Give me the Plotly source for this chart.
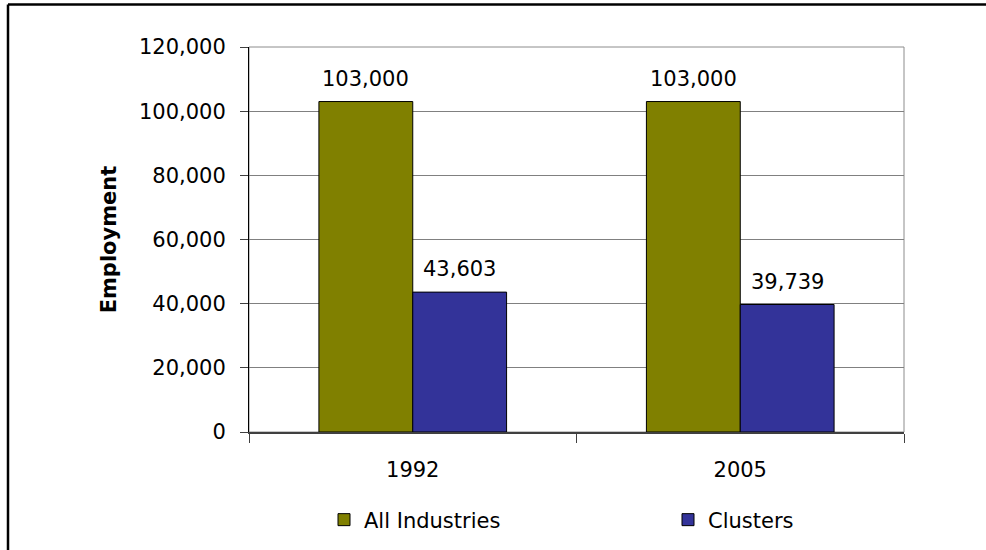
import plotly.graph_objects as go

# Employment by year: all industries vs. cluster industries
years = ["1992", "2005"]
all_industries = [103000, 103000]
clusters = [43603, 39739]

y_ticks = [0, 20000, 40000, 60000, 80000, 100000, 120000]

FONT = "Tahoma, 'DejaVu Sans', sans-serif"
W, H = 986, 550
L, R, T, B = 249, 82, 47, 118
pw, ph = W - L - R, H - T - B
BARGAP = 0.427

fig = go.Figure()
fig.add_trace(go.Bar(
    name="All Industries", x=years, y=all_industries, legend="legend",
    marker=dict(color="#808000", line=dict(color="#000000", width=1)),
))
fig.add_trace(go.Bar(
    name="Clusters", x=years, y=clusters, legend="legend2",
    marker=dict(color="#333399", line=dict(color="#000000", width=1)),
))


def px_x(x):
    return (x - L) / pw


def px_y(y):
    return (H - B - y) / ph


# value labels centred over each bar of the group
bar_px = pw / len(years) * (1 - BARGAP) / 2
annotations = []
for series, side in ((all_industries, -0.5), (clusters, 0.5)):
    for i, v in enumerate(series):
        annotations.append(dict(
            x=i, y=v, xref="x", yref="y", text=f"{v:,}", showarrow=False,
            xshift=side * bar_px, yanchor="bottom", yshift=9,
            font=dict(family=FONT, size=21, color="#000000"),
        ))

shapes = [
    # plot-area frame (top and right edges)
    dict(type="rect", xref="paper", yref="paper", x0=0, x1=1, y0=0, y1=1,
         line=dict(color="#8c8c8c", width=1), layer="below"),
    # outer chart frame
    dict(type="line", xref="paper", yref="paper", x0=px_x(8), x1=px_x(990),
         y0=px_y(4.5), y1=px_y(4.5), line=dict(color="#000000", width=2.5)),
    dict(type="line", xref="paper", yref="paper", x0=px_x(8), x1=px_x(8),
         y0=px_y(4.5), y1=px_y(560), line=dict(color="#000000", width=2.5)),
]

legend_common = dict(
    orientation="h", xanchor="left", y=px_y(520), yanchor="middle",
    font=dict(family=FONT, size=21, color="#000000"),
    bgcolor="rgba(0,0,0,0)",
)

fig.update_layout(
    width=W, height=H,
    margin=dict(l=L, r=R, t=T, b=B, pad=0, autoexpand=False),
    paper_bgcolor="#ffffff", plot_bgcolor="#ffffff",
    barmode="group", bargap=BARGAP, bargroupgap=0,
    font=dict(family=FONT, size=21, color="#000000"),
    shapes=shapes,
    annotations=annotations,
    showlegend=True,
    legend=dict(x=px_x(324), **legend_common),
    legend2=dict(x=px_x(668), **legend_common),
    xaxis=dict(
        type="category",
        showline=True, linecolor="#404040", linewidth=1.5,
        ticks="outside", tickson="boundaries", ticklen=9,
        tickcolor="#404040", tickwidth=1,
        showgrid=False, ticklabelstandoff=18,
        tickfont=dict(family=FONT, size=21, color="#000000"),
    ),
    yaxis=dict(
        range=[0, 120000], tickvals=y_ticks, tickformat=",",
        showline=True, linecolor="#000000", linewidth=1,
        ticks="outside", ticklen=8, tickcolor="#404040", tickwidth=1,
        showgrid=True, gridcolor="#808080", gridwidth=1,
        zeroline=False, ticklabelstandoff=10,
        tickfont=dict(family=FONT, size=21, color="#000000"),
        title=dict(text="<b>Employment</b>", standoff=16,
                   font=dict(family=FONT, size=21, color="#000000")),
    ),
)

fig.write_html("out.html")
